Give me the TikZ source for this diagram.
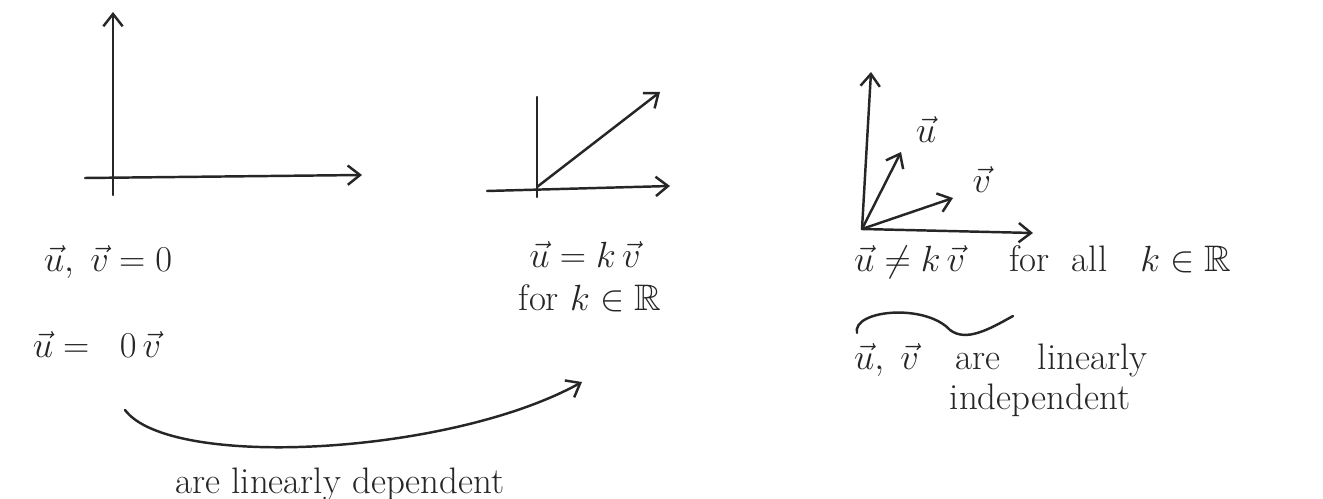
\documentclass[tikz,border=0pt]{standalone}
\usepackage{amsmath,amssymb}
\usepackage{tikz}
\usepackage{xcolor}
\usetikzlibrary{arrows.meta, positioning}

\tikzset{
  pen/.style={line width=1.4pt, draw=black!85, line cap=round},
  axis/.style={pen, -{Straight Barb[length=7pt,width=11pt]}},
  vecline/.style={pen, -{Straight Barb[length=7pt,width=11pt]}},
  hand/.style={font=\fontsize{21}{25}\selectfont, text=black!85, inner sep=1pt},
}

\begin{document}
\begin{tikzpicture}[x=0.02cm, y=-0.02cm]
\useasboundingbox (0,0) rectangle (1323,499);

% left: zero vectors
\coordinate (oA) at (113,177);
\coordinate (yA) at (113,12);
\coordinate (xA) at (362,175);
\draw[axis] (113,195) -- (yA);
\draw[axis] (85,178) -- (xA);
\node[hand] (zeroA) at (108,262) {$\vec{u},\;\vec{v} = 0$};
\node[hand] (zeroB) at (97,345) {$\vec{u} = \;\;0\,\vec{v}$};

% middle: parallel vectors
\coordinate (oB) at (537,187);
\coordinate (xB) at (670,186);
\coordinate (kvTip) at (660,92);
\draw[pen] (537,97) -- (537,197);
\draw[axis] (487,191) -- (xB);
\draw[vecline] (oB) -- (kvTip);
\node[hand] (kv) at (585,255) {$\vec{u} = k\,\vec{v}$};
\node[hand] (kR) at (590,298) {for $k \in \mathbb{R}$};

% right: independent vectors
\coordinate (oC) at (862,229);
\coordinate (yC) at (871,72);
\coordinate (xC) at (1033,233);
\draw[axis] (oC) -- (yC);
\draw[axis] (oC) -- (xC);
\node[hand] (uLab) at (926,130) {$\vec{u}$};
\node[hand] (vLab) at (982,180) {$\vec{v}$};
\coordinate (uTip) at (901,152);
\coordinate (vTip) at (953,198);
\draw[vecline] (oC) -- (uTip);
\draw[vecline] (oC) -- (vTip);
\node[hand, anchor=west] (notkv) at (852,262)
  {$\vec{u} \neq k\,\vec{v}$\hspace{1.2em}for\hspace{0.6em}all\hspace{0.9em}$k \in \mathbb{R}$};

% wavy brace
\coordinate (waveS) at (857,333);
\coordinate (waveM) at (950,330);
\coordinate (waveE) at (1013,316);
\draw[pen] (waveS) .. controls (852,310) and (925,303) .. (waveM)
  .. controls (966,342) and (988,330) .. (waveE);
\node[hand, anchor=west] (indepA) at (852,360)
  {$\vec{u},\;\vec{v}$\hspace{1em}are\hspace{1em}linearly};
\node[hand] (indepB) at (1040,400) {independent};

% dependent arrow
\coordinate (depS) at (125,410);
\coordinate (depE) at (582,382);
\draw[vecline] (depS) .. controls (170,470) and (450,455) .. (depE);
\node[hand] (dep) at (340,484) {are linearly dependent};

\end{tikzpicture}
\end{document}
